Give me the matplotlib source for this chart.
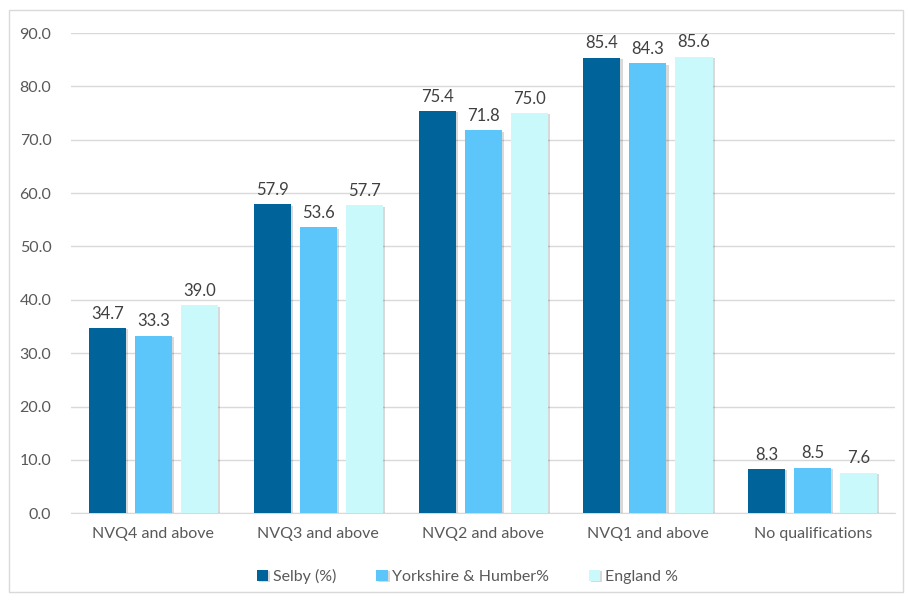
import numpy as np
import matplotlib.pyplot as plt
import matplotlib.patheffects as pe
from matplotlib.patches import Rectangle

categories = ["NVQ4 and above", "NVQ3 and above", "NVQ2 and above",
              "NVQ1 and above", "No qualifications"]
series_names = ["Selby (%)", "Yorkshire & Humber%", "England %"]
selby = [34.7, 57.9, 75.4, 85.4, 8.3]
yorkshire = [33.3, 53.6, 71.8, 84.3, 8.5]
england = [39.0, 57.7, 75.0, 85.6, 7.6]
colors = ["#00639A", "#5CC5FA", "#C9F9FB"]

plt.rcParams['font.family'] = ['Lato', 'DejaVu Sans']

fig = plt.figure(figsize=(9.08, 6.01), dpi=100)
ax = fig.add_axes([0.078, 0.146, 0.908, 0.799])

x = np.arange(len(categories))
width = 0.225
offset = 0.279
shadow = [pe.SimplePatchShadow(offset=(1.5, -1), shadow_rgbFace="#000000", alpha=0.15),
          pe.Normal()]
for i, (vals, name) in enumerate(zip([selby, yorkshire, england], series_names)):
    pos = x + (i - 1) * offset
    bars = ax.bar(pos, vals, width, color=colors[i], label=name, zorder=3)
    for b, v in zip(bars, vals):
        b.set_path_effects(shadow)
        ax.text(b.get_x() + b.get_width() / 2, v + 1.2, f"{v:.1f}",
                ha="center", va="bottom", fontsize=12, color="#404040", zorder=4)

ax.set_xlim(-0.5, len(categories) - 0.5)
ax.set_ylim(0, 90)
ax.set_yticks(np.arange(0, 91, 10))
ax.set_yticklabels([f"{t:.1f}" for t in np.arange(0, 91, 10)])
ax.set_xticks(x)
ax.set_xticklabels(categories)
ax.tick_params(axis="both", length=0, labelsize=11.5, labelcolor="#595959")
ax.tick_params(axis="y", pad=14)
ax.tick_params(axis="x", pad=10)
ax.grid(axis="y", color="#D9D9D9", linewidth=1, zorder=0)
for s in ["top", "right", "left"]:
    ax.spines[s].set_visible(False)
ax.spines["bottom"].set_color("#D9D9D9")

ax.legend(loc="center", bbox_to_anchor=(0.515, 0.041), bbox_transform=fig.transFigure,
          ncol=3, frameon=False, fontsize=11.5, handlelength=0.7, handleheight=0.7,
          handletextpad=0.3, columnspacing=2.5, labelcolor="#595959")

fig.patches.append(Rectangle((0.01, 0.015), 0.985, 0.968, transform=fig.transFigure,
                             fill=False, edgecolor="#D9D9D9", linewidth=1))

fig.savefig("out.png", dpi=100)
